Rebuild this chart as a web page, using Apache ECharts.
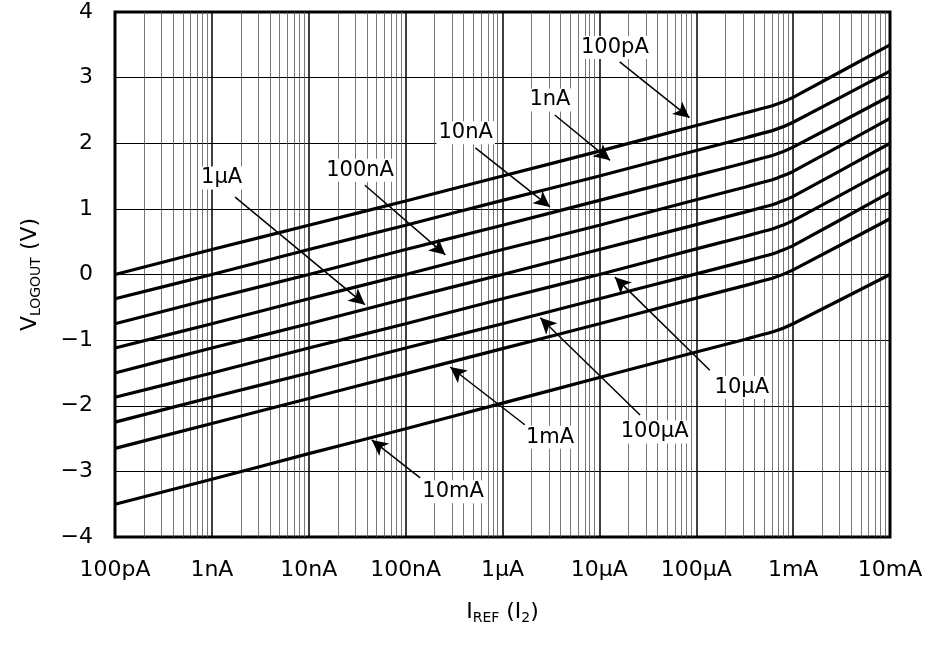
<!DOCTYPE html>
<html lang="en">
<head>
  <meta charset="UTF-8">
  <title>VLOGOUT vs IREF</title>
  <script src="https://cdn.jsdelivr.net/npm/echarts@6/dist/echarts.min.js"></script>
  <style>
    html, body { margin: 0; padding: 0; background: #fff; }
    #chart { width: 933px; height: 649px; }
  </style>
</head>
<body>
  <div id="chart"></div>
  <script>
    // x positions are log10 of I_REF (amps)
    var xPoints = [-10, -9, -8, -7, -6, -5, -4, -3.5, -3.2, -3, -2];
    var xTickLabels = ['100pA', '1nA', '10nA', '100nA', '1\u03bcA', '10\u03bcA', '100\u03bcA', '1mA', '10mA'];
    var seriesNames = ['100pA', '1nA', '10nA', '100nA', '1\u03bcA', '10\u03bcA', '100\u03bcA', '1mA', '10mA'];
    var v100p = [0.00, 0.38, 0.75, 1.12, 1.50, 1.88, 2.27, 2.46, 2.58, 2.70, 3.50];
    var v1n   = [-0.37, 0.00, 0.38, 0.75, 1.13, 1.50, 1.89, 2.08, 2.20, 2.32, 3.10];
    var v10n  = [-0.75, -0.37, 0.00, 0.38, 0.75, 1.13, 1.51, 1.70, 1.82, 1.94, 2.72];
    var v100n = [-1.12, -0.75, -0.37, 0.00, 0.38, 0.75, 1.14, 1.33, 1.45, 1.57, 2.38];
    var v1u   = [-1.50, -1.12, -0.75, -0.37, 0.00, 0.38, 0.76, 0.95, 1.07, 1.19, 2.00];
    var v10u  = [-1.87, -1.50, -1.12, -0.75, -0.37, 0.00, 0.39, 0.58, 0.70, 0.82, 1.62];
    var v100u = [-2.25, -1.87, -1.50, -1.12, -0.75, -0.37, 0.01, 0.20, 0.32, 0.44, 1.25];
    var v1m   = [-2.65, -2.27, -1.89, -1.51, -1.13, -0.75, -0.36, -0.17, -0.05, 0.07, 0.85];
    var v10m  = [-3.50, -3.12, -2.73, -2.35, -1.96, -1.57, -1.18, -0.99, -0.87, -0.75, 0.00];
    var allValues = [v100p, v1n, v10n, v100n, v1u, v10u, v100u, v1m, v10m];

    // annotation: [label, textX, textY, arrowFromX, arrowFromY, arrowToX, arrowToY]
    var notes = [
      ['100pA', -4.84, 3.46, -4.79, 3.24, -4.07, 2.39],
      ['1nA', -5.51, 2.66, -5.46, 2.43, -4.89, 1.74],
      ['10nA', -6.38, 2.16, -6.28, 1.93, -5.51, 1.03],
      ['100nA', -7.47, 1.59, -7.42, 1.36, -6.59, 0.30],
      ['1\u03bcA', -8.90, 1.47, -8.76, 1.18, -7.42, -0.46],
      ['10\u03bcA', -3.53, -1.72, -3.86, -1.46, -4.84, -0.04],
      ['100\u03bcA', -4.43, -2.40, -4.58, -2.14, -5.61, -0.66],
      ['1mA', -5.51, -2.48, -5.77, -2.29, -6.54, -1.41],
      ['10mA', -6.51, -3.31, -6.85, -3.10, -7.35, -2.52]
    ];

    var font = 'DejaVu Sans';
    var minorX = [];
    for (var d = -10; d < -2; d++) {
      for (var k = 2; k <= 9; k++) minorX.push({ xAxis: d + Math.log10(k) });
    }

    var series = [];
    for (var i = 0; i < allValues.length; i++) {
      series.push({
        name: seriesNames[i],
        type: 'line',
        symbol: 'none',
        smooth: 0.15,
        lineStyle: { color: '#000', width: 3.2 },
        data: xPoints.map(function (x, j) { return [x, allValues[i][j]]; }),
        z: 5
      });
    }
    // minor vertical grid lines
    series.push({
      type: 'line', data: [], silent: true,
      markLine: {
        silent: true, symbol: 'none', animation: false,
        label: { show: false },
        lineStyle: { color: '#555', width: 0.8, type: 'solid' },
        data: minorX
      }
    });
    // arrows
    series.push({
      type: 'line', data: [], silent: true, z: 6,
      markLine: {
        silent: true, animation: false,
        symbol: ['none', 'arrow'], symbolSize: [12, 16],
        label: { show: false },
        lineStyle: { color: '#000', width: 1.5, type: 'solid', opacity: 1 },
        data: notes.map(function (n) { return [{ coord: [n[3], n[4]] }, { coord: [n[5], n[6]] }]; })
      }
    });
    // labels
    series.push({
      type: 'scatter', symbolSize: 1, z: 7, silent: true,
      itemStyle: { color: '#fff', opacity: 1 },
      data: notes.map(function (n) { return { value: [n[1], n[2]], label: { formatter: n[0] } }; }),
      label: {
        show: true, position: 'inside', color: '#000', opacity: 1, fontSize: 21, fontFamily: font,
        backgroundColor: '#fff', padding: [1, 2], textBorderWidth: 0
      }
    });

    var chart = echarts.init(document.getElementById('chart'));
    chart.setOption({
      animation: false,
      grid: { left: 115, right: 43, top: 12, bottom: 112, show: true, borderColor: '#000', borderWidth: 3 },
      xAxis: {
        type: 'value', min: -10, max: -2, interval: 1,
        name: '{n|I}{s|REF}{n| (I}{s|2}{n|)}',
        nameLocation: 'middle', nameGap: 62,
        nameTextStyle: { rich: { n: { fontSize: 22, fontFamily: font, color: '#000' }, s: { fontSize: 14, fontFamily: font, color: '#000', verticalAlign: 'bottom', padding: [12, 0, 0, 0] } } },
        axisLine: { show: false },
        axisTick: { show: false },
        axisLabel: { color: '#000', fontSize: 22, fontFamily: font, margin: 22,
          formatter: function (v) { return xTickLabels[Math.round(v + 10)]; } },
        splitLine: { show: true, lineStyle: { color: '#000', width: 1.5 } }
      },
      yAxis: {
        type: 'value', min: -4, max: 4, interval: 1,
        name: '{n|V}{s|LOGOUT}{n| (V)}',
        nameLocation: 'middle', nameGap: 72, nameRotate: 90,
        nameTextStyle: { rich: { n: { fontSize: 22, fontFamily: font, color: '#000' }, s: { fontSize: 14, fontFamily: font, color: '#000', verticalAlign: 'bottom', padding: [12, 0, 0, 0] } } },
        axisLine: { show: false },
        axisTick: { show: false },
        axisLabel: { color: '#000', fontSize: 22, fontFamily: font, margin: 22,
          formatter: function (v) { return v < 0 ? '\u2212' + (-v) : String(v); } },
        splitLine: { show: true, lineStyle: { color: '#000', width: 1 } }
      },
      series: series
    });
  </script>
</body>
</html>
